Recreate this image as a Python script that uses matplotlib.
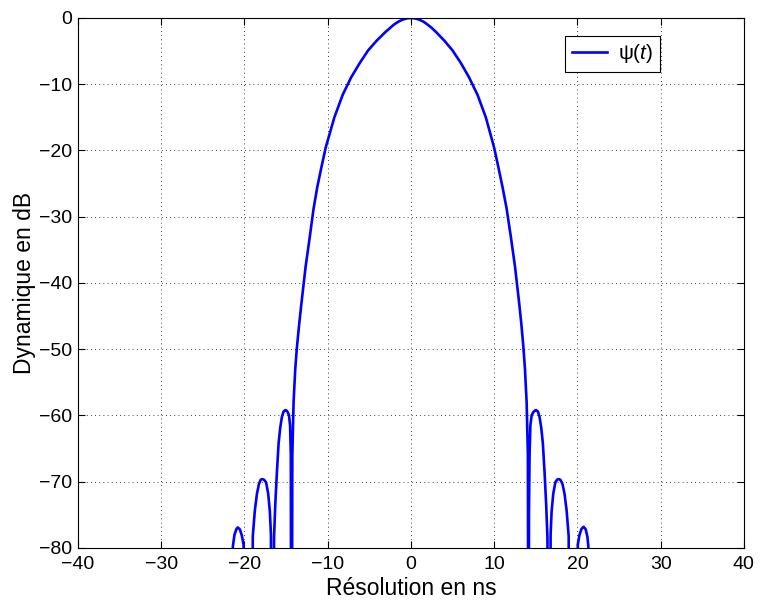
import numpy as np
import matplotlib
matplotlib.use("Agg")
import matplotlib.pyplot as plt

plt.rcParams['font.family'] = ['Liberation Sans', 'DejaVu Sans']
plt.rcParams['mathtext.fontset'] = 'custom'
plt.rcParams['mathtext.rm'] = 'Liberation Sans'
plt.rcParams['mathtext.it'] = 'Liberation Sans:italic'

# left sidelobes (ns, dB), nulls pushed below the axis
lobe3_l_x = [-21.55, -21.4, -21.2, -20.95, -20.8, -20.55, -20.3, -20.1, -19.98]
lobe3_l_y = [-120, -79.8, -78.0, -77.1, -76.9, -77.2, -78.2, -79.6, -120]
lobe2_l_x = [-19.15, -19.0, -18.75, -18.5, -18.25, -18.05, -17.85, -17.65, -17.4, -17.15, -16.95, -16.82, -16.75]
lobe2_l_y = [-120, -78.2, -74.3, -71.8, -70.3, -69.7, -69.6, -69.7, -70.1, -71.8, -74.5, -78.0, -120]
lobe1_l_x = [-16.55, -16.45, -16.3, -16.1, -15.9, -15.7, -15.5, -15.3, -15.1, -14.95, -14.8, -14.65, -14.52, -14.43, -14.38]
lobe1_l_y = [-120, -78.5, -73.5, -68.5, -64.2, -61.8, -60.2, -59.4, -59.2, -59.25, -59.5, -60.0, -61.5, -66.0, -120]

# main lobe
main_x = [-14.33, -14.25, -14.1, -13.9, -13.72, -13.45, -13.15, -12.65, -12.15, -11.7, -11.25, -10.75, -10.25,
          -9.2, -8.2, -7.2, -6.15, -5.15, -4.1, -3.05, -2.5, -2.05, -1.5, -1.0, -0.5, 0.0,
          0.5, 1.0, 1.5, 2.0, 2.5, 3.0, 4.0, 5.0, 6.0, 7.0, 8.0, 9.0, 10.0, 10.5, 11.0, 11.5,
          12.0, 12.5, 13.0, 13.25, 13.5, 13.7, 13.9, 14.05, 14.13]
main_y = [-120, -66.0, -58.0, -53.0, -50.0, -46.5, -43.0, -37.5, -33.0, -28.8, -25.5, -22.5, -19.6,
          -15.0, -11.6, -9.0, -6.8, -4.9, -3.4, -2.1, -1.5, -1.0, -0.55, -0.25, -0.06, 0.0,
          -0.06, -0.25, -0.55, -1.0, -1.5, -2.1, -3.4, -4.9, -6.8, -9.0, -11.6, -15.0, -19.6, -22.5, -25.5, -28.8,
          -33.0, -37.5, -43.0, -46.0, -49.5, -53.0, -58.0, -66.0, -120]

# right sidelobes
lobe1_r_x = [14.13, 14.18, 14.25, 14.35, 14.5, 14.7, 14.9, 15.05, 15.25, 15.45, 15.65, 15.85, 16.05, 16.25, 16.4, 16.5]
lobe1_r_y = [-120, -75.0, -66.0, -61.5, -60.0, -59.5, -59.25, -59.2, -59.4, -60.2, -61.8, -64.2, -68.5, -73.5, -78.5, -120]
lobe2_r_x = [16.72, 16.78, 16.9, 17.1, 17.35, 17.55, 17.75, 17.95, 18.2, 18.45, 18.7, 18.95, 19.13]
lobe2_r_y = [-120, -78.0, -74.5, -71.8, -70.1, -69.7, -69.6, -69.7, -70.3, -71.8, -74.3, -78.2, -120]
lobe3_r_x = [19.93, 20.05, 20.25, 20.5, 20.75, 21.0, 21.2, 21.32, 21.45]
lobe3_r_y = [-120, -79.5, -78.0, -77.1, -76.8, -77.2, -78.3, -79.8, -120]

x = np.concatenate([lobe3_l_x, lobe2_l_x, lobe1_l_x, main_x, lobe1_r_x, lobe2_r_x, lobe3_r_x])
y = np.concatenate([lobe3_l_y, lobe2_l_y, lobe1_l_y, main_y, lobe1_r_y, lobe2_r_y, lobe3_r_y])

fig = plt.figure(figsize=(7.61, 6.0), dpi=100)
ax = fig.add_axes([0.1025, 0.0867, 0.875, 0.8833])
ax.plot(x, y, color='#0000ff', linewidth=1.9, label=r'$\mathrm{\psi}\mathit{(t)}$')

ax.set_xlim(-40, 40)
ax.set_ylim(-80, 0)
ax.set_xticks(np.arange(-40, 41, 10))
ax.set_yticks(np.arange(-80, 1, 10))
ax.grid(True, color='black', linestyle=(0, (1, 4)), linewidth=0.6)
ax.tick_params(direction='in', top=True, right=True, length=5, labelsize=14, width=0.8)
ax.tick_params(axis='x', pad=6)
ax.tick_params(axis='y', pad=4)
for s in ax.spines.values():
    s.set_linewidth(0.8)

ax.set_xlabel('Résolution en ns', fontsize=16.5, labelpad=3)
ax.set_ylabel('Dynamique en dB', fontsize=16.5, labelpad=2)

leg = ax.legend(loc='upper right', bbox_to_anchor=(0.874, 0.966), fontsize=15,
                fancybox=False, framealpha=1, edgecolor='black', handlelength=1.7,
                handletextpad=0.55, borderpad=0.3, borderaxespad=0)
leg.get_frame().set_linewidth(0.8)

fig.savefig('out.png', dpi=100)
